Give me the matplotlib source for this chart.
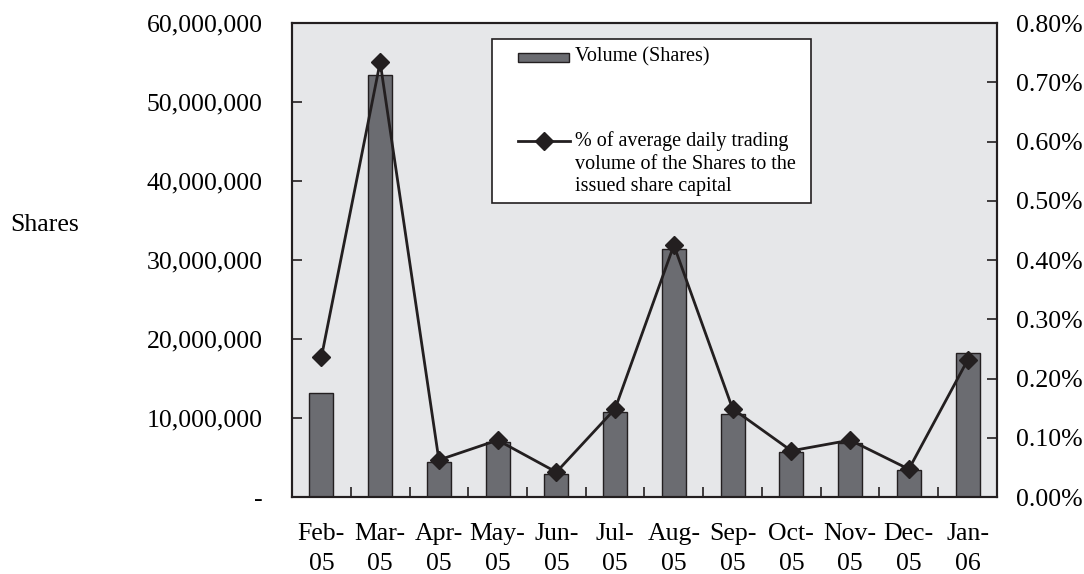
import numpy as np
import matplotlib.pyplot as plt
from matplotlib.patches import Rectangle
from matplotlib.lines import Line2D
from matplotlib.ticker import FuncFormatter

plt.rcParams['font.family'] = ['Liberation Serif', 'DejaVu Serif']

months = ['Feb-\n05', 'Mar-\n05', 'Apr-\n05', 'May-\n05', 'Jun-\n05', 'Jul-\n05',
          'Aug-\n05', 'Sep-\n05', 'Oct-\n05', 'Nov-\n05', 'Dec-\n05', 'Jan-\n06']
volume = [13.2e6, 53.4e6, 4.4e6, 7.0e6, 2.9e6, 10.8e6,
          31.4e6, 10.5e6, 5.7e6, 6.8e6, 3.4e6, 18.2e6]
pct = [0.236, 0.734, 0.0625, 0.096, 0.042, 0.149,
       0.425, 0.149, 0.078, 0.096, 0.047, 0.231]

ink = '#231f20'
barc = '#6b6c71'
bg = '#e6e7e9'

fig = plt.figure(figsize=(10.84, 5.74), dpi=100)
ax = fig.add_axes([0.2694, 0.1341, 0.6503, 0.8258])
ax.set_facecolor(bg)
x = np.arange(len(months))
ax.bar(x, volume, width=0.41, color=barc, edgecolor=ink, linewidth=1)
ax.set_xlim(-0.5, len(months) - 0.5)
ax.set_ylim(0, 60e6)
ax.set_yticks(np.arange(0, 60e6 + 1, 10e6))
ax.yaxis.set_major_formatter(FuncFormatter(lambda v, p: '-' if v == 0 else f'{v:,.0f}'))
ax.tick_params(axis='y', direction='in', length=7, width=1.2, color=ink,
               labelsize=18.5, pad=21)
ax.set_xticks(x)
ax.set_xticklabels(months, fontsize=18.5, linespacing=1.45)
ax.tick_params(axis='x', which='major', length=0, pad=19)
ax.set_xticks(np.arange(0.5, len(months) - 1), minor=True)
ax.tick_params(axis='x', which='minor', direction='in', length=7, width=1.2, color=ink)
for s in ax.spines.values():
    s.set_color(ink)
    s.set_linewidth(1.5)

ax2 = ax.twinx()
ax2.plot(x, pct, color=ink, lw=2, marker='D', markersize=9.5, zorder=5)
ax2.set_ylim(0, 0.8)
ax2.set_yticks(np.arange(0, 0.81, 0.1))
ax2.yaxis.set_major_formatter(FuncFormatter(lambda v, p: f'{v:.2f}%'))
ax2.tick_params(axis='y', direction='in', length=7, width=1.2, color=ink,
                labelsize=18.5, pad=14)
for s in ax2.spines.values():
    s.set_color(ink)
    s.set_linewidth(1.5)

fig.text(10 / 1084, 1 - 225 / 574, 'Shares', fontsize=18.5, ha='left', va='center')

# legend box drawn by hand so the line handle sits beside the first text line
t = ax2.transAxes
ax2.add_patch(Rectangle((0.284, 0.620), 0.452, 0.346, transform=t, facecolor='white',
                        edgecolor=ink, lw=1.2, zorder=10))
ax2.add_patch(Rectangle((0.3206, 0.918), 0.0723, 0.019, transform=t, facecolor=barc,
                        edgecolor=ink, lw=1, zorder=11))
ax2.text(0.401, 0.929, 'Volume (Shares)', transform=t, fontsize=14.5, va='center', zorder=11)
ax2.add_line(Line2D([0.3206, 0.395], [0.751, 0.751], transform=t, color=ink, lw=2,
                    zorder=11))
ax2.add_line(Line2D([0.3578], [0.751], transform=t, color=ink, marker='D',
                    markersize=9.5, zorder=12))
ax2.text(0.401, 0.703, '% of average daily trading\nvolume of the Shares to the\nissued share capital',
         transform=t, fontsize=14.5, va='center', linespacing=1.25, zorder=11)

fig.savefig('out.png', dpi=100)
